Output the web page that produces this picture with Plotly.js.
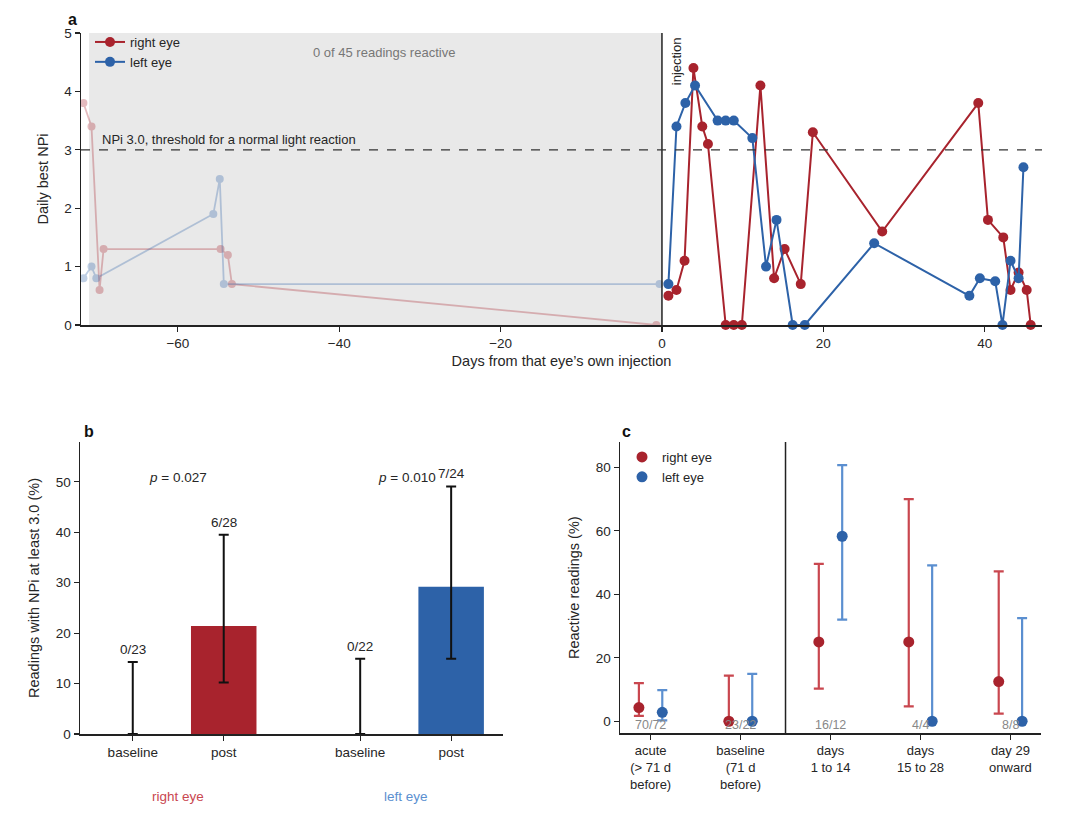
<!DOCTYPE html>
<html><head><meta charset="utf-8">
<script src="https://cdn.plot.ly/plotly-3.0.1.min.js"></script>
<style>html,body{margin:0;padding:0;background:#fff}#chart{width:1080px;height:827px}</style>
</head><body><div id="chart"></div>
<script>
// ---------- Panel a data ----------
const rightPreDays = [-71.7,-70.7,-69.7,-69.2,-54.7,-53.8,-53.3,-0.7];
const rightPreNPi  = [3.8,3.4,0.6,1.3,1.3,1.2,0.7,0.0];
const leftPreDays  = [-71.7,-70.7,-70.1,-55.6,-54.8,-54.3,-0.3];
const leftPreNPi   = [0.8,1.0,0.8,1.9,2.5,0.7,0.7];
const rightPostDays = [0.8,1.8,2.8,3.9,5.0,5.7,7.9,8.9,9.9,12.2,13.9,15.2,17.2,18.7,27.3,39.2,40.4,42.3,43.2,44.2,45.2,45.7];
const rightPostNPi  = [0.5,0.6,1.1,4.4,3.4,3.1,0,0,0,4.1,0.8,1.3,0.7,3.3,1.6,3.8,1.8,1.5,0.6,0.9,0.6,0];
const leftPostDays  = [0.8,1.8,2.9,4.1,6.9,7.9,8.9,11.2,12.9,14.2,16.2,17.7,26.3,38.1,39.4,41.3,42.2,43.2,44.2,44.8];
const leftPostNPi   = [0.7,3.4,3.8,4.1,3.5,3.5,3.5,3.2,1.0,1.8,0,0,1.4,0.5,0.8,0.75,0,1.1,0.8,2.7];
const threshold = 3.0;
const baselineStart = -71;

// ---------- Panel b data ----------
const bRightX = [0, 1];
const bLeftX  = [2.5, 3.5];
const bTickLabels = ['baseline','post','baseline','post'];
const bRightPct = [0, 21.4];
const bRightLo  = [0, 10.2];
const bRightHi  = [14.3, 39.5];
const bLeftPct  = [0, 29.2];
const bLeftLo   = [0, 14.9];
const bLeftHi   = [14.9, 49.1];
const bRightCounts = ['0/23','6/28'];
const bLeftCounts  = ['0/22','7/24'];
const bPvals = ['<i>p</i> = 0.027','<i>p</i> = 0.010'];

// ---------- Panel c data ----------
const cCats = ['acute<br>(> 71 d<br>before)','baseline<br>(71 d<br>before)','days<br>1 to 14','days<br>15 to 28','day 29<br>onward'];
const cRight   = [4.3, 0, 25, 25, 12.5];
const cRightLo = [1.7, 0, 10.3, 4.7, 2.4];
const cRightHi = [12.0, 14.4, 49.6, 70.0, 47.2];
const cLeft    = [2.8, 0, 58.3, 0, 0];
const cLeftLo  = [0.3, 0, 32.0, 0, 0];
const cLeftHi  = [9.8, 14.9, 80.7, 49.1, 32.5];
const cCounts  = ['70/72','23/22','16/12','4/4','8/8'];

const RED = '#a8232d', BLUE = '#2d62a8';
const RED_LIGHT = '#c9474f', BLUE_LIGHT = '#5b8fd0';
const TXT = '#262626';
const FONT = 'Liberation Sans, Arial, sans-serif';

const idx = a => a.map((_, i) => i);
const sub = (a, b) => a.map((v, i) => v - b[i]);

const traces = [
  {x: rightPreDays, y: rightPreNPi, mode: 'lines+markers', xaxis: 'x', yaxis: 'y',
   line: {color: RED, width: 1.8}, marker: {color: RED, size: 8}, opacity: 0.3, showlegend: false, hoverinfo: 'skip'},
  {x: leftPreDays, y: leftPreNPi, mode: 'lines+markers', xaxis: 'x', yaxis: 'y',
   line: {color: BLUE, width: 1.8}, marker: {color: BLUE, size: 8}, opacity: 0.3, showlegend: false, hoverinfo: 'skip'},
  {x: rightPostDays, y: rightPostNPi, mode: 'lines+markers', name: 'right eye', xaxis: 'x', yaxis: 'y',
   line: {color: RED, width: 2}, marker: {color: RED, size: 10}, cliponaxis: false, legend: 'legend'},
  {x: leftPostDays, y: leftPostNPi, mode: 'lines+markers', name: 'left eye', xaxis: 'x', yaxis: 'y',
   line: {color: BLUE, width: 2}, marker: {color: BLUE, size: 10}, cliponaxis: false, legend: 'legend'},
  // panel b
  {type: 'bar', x: bRightX, y: bRightPct, xaxis: 'x2', yaxis: 'y2', width: 0.72,
   marker: {color: RED}, showlegend: false,
   error_y: {type: 'data', symmetric: false, array: sub(bRightHi, bRightPct), arrayminus: sub(bRightPct, bRightLo),
             color: '#111', thickness: 2, width: 5}},
  {type: 'bar', x: bLeftX, y: bLeftPct, xaxis: 'x2', yaxis: 'y2', width: 0.72,
   marker: {color: BLUE}, showlegend: false,
   error_y: {type: 'data', symmetric: false, array: sub(bLeftHi, bLeftPct), arrayminus: sub(bLeftPct, bLeftLo),
             color: '#111', thickness: 2, width: 5}},
  // panel c
  {x: idx(cRight).map(i => i - 0.13), y: cRight, mode: 'markers', name: 'right eye', xaxis: 'x3', yaxis: 'y3',
   marker: {color: RED, size: 11}, legend: 'legend2', cliponaxis: false,
   error_y: {type: 'data', symmetric: false, array: sub(cRightHi, cRight), arrayminus: sub(cRight, cRightLo),
             color: RED_LIGHT, thickness: 2.2, width: 5}},
  {x: idx(cLeft).map(i => i + 0.13), y: cLeft, mode: 'markers', name: 'left eye', xaxis: 'x3', yaxis: 'y3',
   marker: {color: BLUE, size: 11}, legend: 'legend2', cliponaxis: false,
   error_y: {type: 'data', symmetric: false, array: sub(cLeftHi, cLeft), arrayminus: sub(cLeft, cLeftLo),
             color: BLUE_LIGHT, thickness: 2.2, width: 5}}
];

const axisBase = {showgrid: false, zeroline: false, showline: true, linecolor: '#222', linewidth: 1.5,
  ticks: 'outside', ticklen: 5, tickwidth: 1.2, tickcolor: '#222', tickfont: {size: 13.5, color: TXT, family: FONT}};

const annotations = [
  {text: '<b>a</b>', xref: 'paper', yref: 'paper', x: 66/1080, y: 1 - 20/827, xanchor: 'left', yanchor: 'middle', showarrow: false, font: {size: 16, color: '#111'}},
  {text: '<b>b</b>', xref: 'paper', yref: 'paper', x: 82/1080, y: 1 - 431/827, xanchor: 'left', yanchor: 'middle', showarrow: false, font: {size: 16, color: '#111'}},
  {text: '<b>c</b>', xref: 'paper', yref: 'paper', x: 620/1080, y: 1 - 431/827, xanchor: 'left', yanchor: 'middle', showarrow: false, font: {size: 16, color: '#111'}},
  {text: 'NPi 3.0, threshold for a normal light reaction', xref: 'x', yref: 'y', x: -69.6, y: threshold + 0.02,
   xanchor: 'left', yanchor: 'bottom', showarrow: false, font: {size: 13, color: TXT}},
  {text: '0 of 45 readings reactive', xref: 'x', yref: 'y', x: -34.5, y: 4.66,
   xanchor: 'center', yanchor: 'middle', showarrow: false, font: {size: 13, color: '#777'}},
  {text: 'injection', xref: 'x', yref: 'y', x: 1.8, y: 4.97, textangle: -90,
   xanchor: 'center', yanchor: 'top', showarrow: false, font: {size: 13, color: TXT}},
  {text: 'right eye', xref: 'x2', yref: 'paper', x: 0.5, y: 1 - 796/827, xanchor: 'center', yanchor: 'middle',
   showarrow: false, font: {size: 13.5, color: RED_LIGHT}},
  {text: 'left eye', xref: 'x2', yref: 'paper', x: 3.0, y: 1 - 796/827, xanchor: 'center', yanchor: 'middle',
   showarrow: false, font: {size: 13.5, color: BLUE_LIGHT}}
];
bRightCounts.forEach((t, i) => annotations.push({text: t, xref: 'x2', yref: 'y2', x: bRightX[i], y: bRightHi[i] + 0.6,
  xanchor: 'center', yanchor: 'bottom', showarrow: false, font: {size: 13.5, color: TXT}}));
bLeftCounts.forEach((t, i) => annotations.push({text: t, xref: 'x2', yref: 'y2', x: bLeftX[i], y: bLeftHi[i] + 0.6,
  xanchor: 'center', yanchor: 'bottom', showarrow: false, font: {size: 13.5, color: TXT}}));
bPvals.forEach((t, i) => annotations.push({text: t, xref: 'x2', yref: 'y2', x: i === 0 ? 0.5 : 3.36, y: 50.8,
  xanchor: i === 0 ? 'center' : 'right', yanchor: 'middle', showarrow: false, font: {size: 13.5, color: TXT}}));
cCounts.forEach((t, i) => annotations.push({text: t, xref: 'x3', yref: 'y3', x: i, y: -1.2,
  xanchor: 'center', yanchor: 'middle', showarrow: false, font: {size: 12.5, color: '#888'}}));

const layout = {
  width: 1080, height: 827,
  margin: {l: 0, r: 0, t: 0, b: 0},
  paper_bgcolor: '#fff', plot_bgcolor: 'rgba(0,0,0,0)',
  font: {family: FONT, color: TXT, size: 13},
  xaxis: Object.assign({}, axisBase, {domain: [81/1080, 1042/1080], anchor: 'y', range: [-72, 47.1],
    tickvals: [-60, -40, -20, 0, 20, 40],
    title: {text: 'Days from that eye\u2019s own injection', font: {size: 14.5, color: TXT}, standoff: 6}}),
  yaxis: Object.assign({}, axisBase, {domain: [1 - 325/827, 1 - 33/827], anchor: 'x', range: [0, 5], dtick: 1,
    title: {text: 'Daily best NPi', font: {size: 14.5, color: TXT}, standoff: 12}}),
  xaxis2: Object.assign({}, axisBase, {domain: [80/1080, 503/1080], anchor: 'y2', range: [-0.58, 4.07],
    tickvals: bRightX.concat(bLeftX), ticktext: bTickLabels}),
  yaxis2: Object.assign({}, axisBase, {domain: [1 - 734/827, 1 - 442/827], anchor: 'x2', range: [0, 57.9],
    tickvals: [0, 10, 20, 30, 40, 50],
    title: {text: 'Readings with NPi at least 3.0 (%)', font: {size: 14.5, color: TXT}, standoff: 12}}),
  xaxis3: Object.assign({}, axisBase, {domain: [620/1080, 1041/1080], anchor: 'y3', range: [-0.34, 4.34],
    tickvals: idx(cCats), ticktext: cCats, tickfont: {size: 13, color: TXT, family: FONT}}),
  yaxis3: Object.assign({}, axisBase, {domain: [1 - 733.3/827, 1 - 442/827], anchor: 'x3', range: [-3.8, 88],
    tickvals: [0, 20, 40, 60, 80],
    title: {text: 'Reactive readings (%)', font: {size: 14.5, color: TXT}, standoff: 12}}),
  showlegend: true,
  legend: {x: 90/1080, y: 1 - 27/827, xanchor: 'left', yanchor: 'top', bgcolor: 'rgba(0,0,0,0)',
    font: {size: 13, color: TXT}, tracegroupgap: 0, itemwidth: 30},
  legend2: {x: 622/1080, y: 1 - 442/827, xanchor: 'left', yanchor: 'top', bgcolor: 'rgba(0,0,0,0)',
    font: {size: 13, color: TXT}, itemwidth: 30},
  shapes: [
    {type: 'rect', xref: 'x', yref: 'y', x0: baselineStart, x1: 0, y0: 0, y1: 5, fillcolor: '#e9e9e9', line: {width: 0}, layer: 'below'},
    {type: 'line', xref: 'x', yref: 'y', x0: 0, x1: 0, y0: 0, y1: 5, line: {color: '#222', width: 1.5}},
    {type: 'line', xref: 'x', yref: 'y', x0: -72, x1: 47.1, y0: threshold, y1: threshold, line: {color: '#333', width: 1.3, dash: 'dash'}},
    {type: 'line', xref: 'x3', yref: 'y3', x0: 1.5, x1: 1.5, y0: -3.8, y1: 88, line: {color: '#222', width: 1.5}}
  ],
  annotations: annotations
};

Plotly.newPlot('chart', traces, layout, {displayModeBar: false, staticPlot: true});
</script></body></html>
